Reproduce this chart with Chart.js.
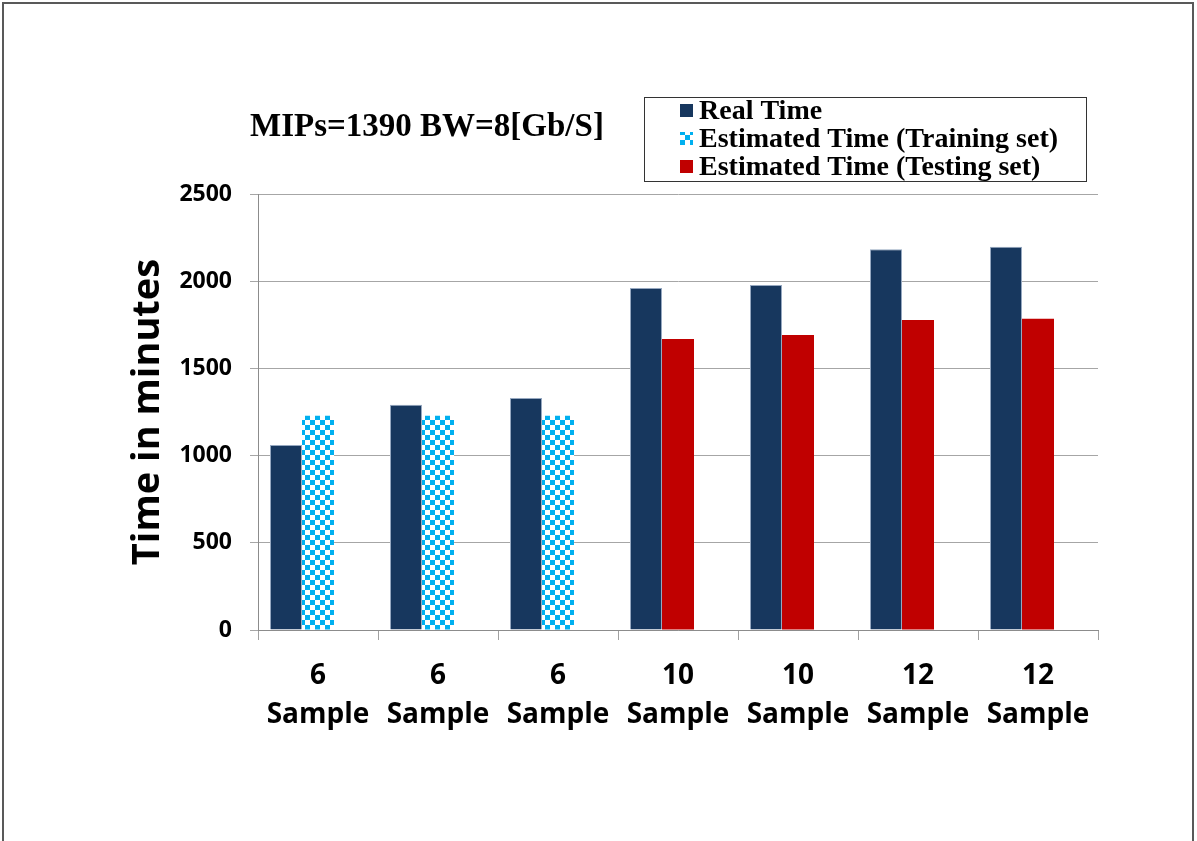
<!DOCTYPE html>
<html>
<head>
<meta charset="utf-8">
<script src="https://cdn.jsdelivr.net/npm/chart.js@4.4.1/dist/chart.umd.min.js"></script>
<style>
  html, body { margin: 0; padding: 0; background: #fff; }
  canvas { display: block; }
</style>
</head>
<body>
<canvas id="grafica" width="1197" height="841"></canvas>
<script>
'use strict'

//Datos de la gráfica
const sampleCounts = [6, 6, 6, 10, 10, 12, 12];
const realTime = [1061, 1292, 1330, 1961, 1978, 2183, 2198];
const trainingEst = [1229, 1229, 1229, null, null, null, null];
const testingEst = [null, null, null, 1669, 1692, 1778, 1784];
const yTicks = [0, 500, 1000, 1500, 2000, 2500];

const tituloGrafica = 'MIPs=1390 BW=8[Gb/S]';
const tituloEjeY = 'Time in minutes';
const nombresSeries = ['Real Time', 'Estimated Time (Training set)', 'Estimated Time (Testing set)'];

//Colores
const azul = '#17375E';
const rojo = '#C00000';
const cian = '#00B0F0';

//Patrón de cuadros para la serie de entrenamiento
function patronCuadros(color, celda) {
    const c = document.createElement('canvas');
    c.width = celda * 2;
    c.height = celda * 2;
    const g = c.getContext('2d');
    g.fillStyle = '#fff';
    g.fillRect(0, 0, c.width, c.height);
    g.fillStyle = color;
    g.fillRect(0, 0, celda, celda);
    g.fillRect(celda, celda, celda, celda);
    return g.createPattern(c, 'repeat');
}

const ctx = document.getElementById('grafica').getContext('2d');
const cuadros = patronCuadros(cian, 5);
const coloresLeyenda = [azul, cuadros, rojo];

//Marco, título y leyenda dibujados a mano
const decoracion = {
    id: 'decoracion',
    beforeDraw(chart) {
        const c = chart.ctx;
        c.save();
        c.strokeStyle = '#595959';
        c.lineWidth = 2;
        c.beginPath();
        c.moveTo(3, 841);
        c.lineTo(3, 3);
        c.lineTo(1193, 3);
        c.lineTo(1193, 841);
        c.stroke();
        c.restore();
    },
    afterDraw(chart) {
        const c = chart.ctx;
        c.save();
        c.fillStyle = '#000';
        c.textBaseline = 'middle';
        c.textAlign = 'left';
        c.font = 'bold 33px "Liberation Serif"';
        c.fillText(tituloGrafica, 250, 127);

        c.strokeStyle = '#333';
        c.lineWidth = 1;
        c.strokeRect(644.5, 97.5, 442, 84);

        c.font = 'bold 28px "Liberation Serif"';
        nombresSeries.forEach((nombre, i) => {
            const y = 111 + i * 28;
            c.fillStyle = coloresLeyenda[i];
            c.fillRect(680, y - 7, 13, 13);
            c.fillStyle = '#000';
            c.fillText(nombre, 699, y + 1);
        });
        c.restore();
    }
};

new Chart(ctx, {
    type: 'bar',
    data: {
        labels: sampleCounts.map(n => [String(n), 'Sample']),
        datasets: [
            {
                label: nombresSeries[0],
                data: realTime,
                backgroundColor: azul,
                borderColor: 'rgba(150,168,192,1)',
                borderWidth: 1,
                stack: 'real'
            },
            {
                label: nombresSeries[1],
                data: trainingEst,
                backgroundColor: cuadros,
                stack: 'estimado'
            },
            {
                label: nombresSeries[2],
                data: testingEst,
                backgroundColor: rojo,
                stack: 'estimado'
            },
            {
                //Espacio vacío al final de cada grupo
                label: '',
                data: [],
                stack: 'hueco'
            }
        ]
    },
    plugins: [decoracion],
    options: {
        animation: false,
        responsive: false,
        categoryPercentage: 0.8,
        barPercentage: 1.0,
        layout: {
            padding: { left: 125, right: 99, top: 194, bottom: 0 }
        },
        plugins: {
            legend: { display: false },
            tooltip: { enabled: false },
            title: { display: false }
        },
        scales: {
            x: {
                afterFit(scale) { scale.height = 211; },
                grid: {
                    offset: true,
                    drawOnChartArea: false,
                    color: '#A0A0A0',
                    tickLength: 10
                },
                border: { color: '#8C8C8C' },
                ticks: {
                    color: '#000',
                    padding: 16,
                    maxRotation: 0,
                    font: { family: '"Open Sans"', weight: 'bold', size: 28, lineHeight: 1.4 }
                }
            },
            y: {
                stacked: true,
                min: 0,
                max: 2500,
                afterFit(scale) { scale.width = 133; },
                afterBuildTicks(scale) { scale.ticks = yTicks.map(v => ({ value: v })); },
                grid: {
                    color: '#A6A6A6',
                    tickLength: 8
                },
                border: { color: '#8C8C8C' },
                ticks: {
                    color: '#000',
                    padding: 18,
                    callback: v => String(v),
                    font: { family: '"Open Sans"', weight: 'bold', size: 23 }
                },
                title: {
                    display: true,
                    text: tituloEjeY,
                    color: '#000',
                    padding: 0,
                    font: { family: '"Open Sans"', weight: 'bold', size: 38 }
                }
            }
        }
    }
});
</script>
</body>
</html>
